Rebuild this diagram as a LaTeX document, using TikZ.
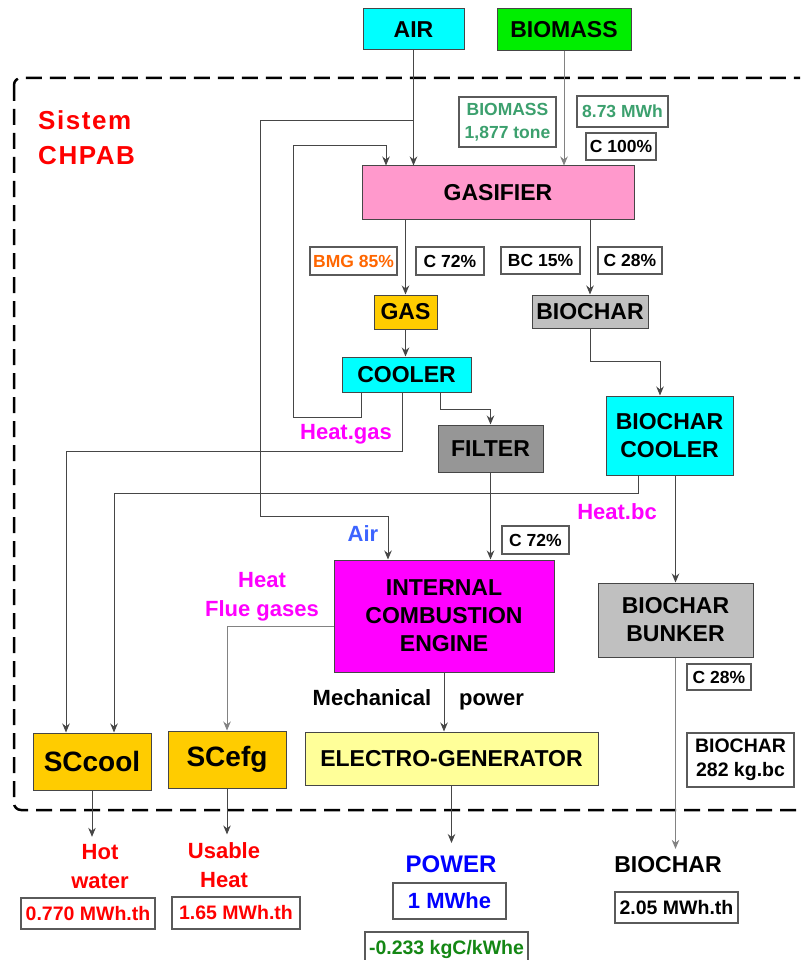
\documentclass[tikz,border=0pt]{standalone}
\usepackage{fontspec}
\setmainfont{Liberation Sans}
\usepackage{tikz}
\usetikzlibrary{positioning}
\usetikzlibrary{arrows.meta}
\usepackage{xcolor}

\definecolor{aircyan}{RGB}{0,255,255}
\definecolor{biogreen}{RGB}{0,238,0}
\definecolor{gaspink}{RGB}{255,153,204}
\definecolor{gasgold}{RGB}{255,204,0}
\definecolor{filtergray}{RGB}{150,150,150}
\definecolor{chargray}{RGB}{192,192,192}
\definecolor{enginemag}{RGB}{255,0,255}
\definecolor{genyellow}{RGB}{255,255,153}
\definecolor{linegray}{RGB}{70,70,70}
\definecolor{lightline}{RGB}{130,130,130}
\definecolor{taggray}{RGB}{90,90,90}
\definecolor{massgreen}{RGB}{60,160,110}
\definecolor{co2green}{RGB}{20,135,20}
\definecolor{bmgorange}{RGB}{255,102,0}
\definecolor{airblue}{RGB}{60,100,255}

\newcommand{\boxfont}{\fontsize{23}{28}\selectfont\bfseries}
\newcommand{\tagfont}{\fontsize{17.5}{23}\selectfont\bfseries}
\newcommand{\outfont}{\fontsize{19.5}{24}\selectfont\bfseries}
\newcommand{\scfont}{\fontsize{28}{32}\selectfont\bfseries}
\newcommand{\labfont}{\fontsize{22}{29}\selectfont\bfseries}
\newcommand{\sysfont}{\fontsize{26}{35}\selectfont\bfseries\addfontfeature{LetterSpace=6}}

\begin{document}
\begin{tikzpicture}[x=1pt,y=-1pt,
    unit/.style={draw=linegray,line width=1pt,inner sep=0pt,align=center,font=\boxfont},
    tag/.style={draw=taggray,line width=1.2pt,fill=white,inner sep=0pt,align=center,font=\tagfont},
    outtag/.style={tag,font=\outfont},
    note/.style={inner sep=0pt,align=center,font=\labfont},
    outtxt/.style={note,outer sep=8pt},
    flow/.style={draw=linegray,line width=1pt,-{Stealth[length=9pt,width=7.5pt]}},
    lightflow/.style={flow,draw=lightline},
    frame/.style={draw=black,line width=2.5pt,dash pattern=on 16pt off 8pt,rounded corners=7pt}]
\clip (0,0) rectangle (800,960);
\draw[frame] (14,78) rectangle (840,810);
\node[note,font=\sysfont,text=red,align=left,anchor=north west] (sys) at (38,110) {Sistem\\CHPAB};

\node[unit,fill=aircyan,minimum width=101pt,minimum height=41pt] (air) at (413.5,29.5) {AIR};
\node[unit,fill=biogreen,minimum width=134pt,minimum height=42pt] (biomass) at (564,30) {BIOMASS};
\node[unit,fill=gaspink,minimum width=272pt,minimum height=53pt] (gasifier) at (498,192.5) {GASIFIER};
\node[unit,fill=gasgold,minimum width=63pt,minimum height=34pt] (gas) at (405.5,312) {GAS};
\node[unit,fill=aircyan,minimum width=129pt,minimum height=35pt] (cooler) at (406.5,374.5) {COOLER};
\node[unit,fill=chargray,minimum width=116pt,minimum height=33pt] (biochar) at (590,311.5) {BIOCHAR};
\node[unit,fill=aircyan,minimum width=127pt,minimum height=79pt] (bccooler) at (669.5,435.5) {BIOCHAR\\COOLER};
\node[unit,fill=filtergray,minimum width=105pt,minimum height=47pt] (filter) at (490.5,448.5) {FILTER};
\node[unit,fill=enginemag,minimum width=220pt,minimum height=112pt] (engine) at (444,616) {INTERNAL\\COMBUSTION\\ENGINE};
\node[unit,fill=chargray,minimum width=155pt,minimum height=74pt] (bunker) at (675.5,620) {BIOCHAR\\BUNKER};
\node[unit,font=\scfont,fill=gasgold,minimum width=118pt,minimum height=57pt] (sccool) at (92,761.5) {SCcool};
\node[unit,font=\scfont,fill=gasgold,minimum width=118pt,minimum height=57pt] (scefg) at (227,759.5) {SCefg};
\node[unit,fill=genyellow,minimum width=293pt,minimum height=53pt] (generator) at (451.5,758.5) {ELECTRO-GENERATOR};

\node[tag,text=massgreen,minimum width=97pt,minimum height=50pt] (tmass) at (507.5,122) {BIOMASS\\1,877 tone};
\node[tag,text=massgreen,minimum width=91pt,minimum height=31pt] (tmwh) at (622.5,111.5) {8.73 MWh};
\node[tag,minimum width=70pt,minimum height=27pt] (tcfull) at (621,146.5) {C 100\%};
\node[tag,text=bmgorange,minimum width=87pt,minimum height=28pt] (tbmg) at (353.5,261) {BMG 85\%};
\node[tag,minimum width=68pt,minimum height=28pt] (tcgas) at (450,261) {C 72\%};
\node[tag,minimum width=79pt,minimum height=27pt] (tbc) at (540.5,260.5) {BC 15\%};
\node[tag,minimum width=64pt,minimum height=27pt] (tcchar) at (630,260.5) {C 28\%};
\node[tag,minimum width=67pt,minimum height=28pt] (tcfilter) at (535.5,540) {C 72\%};
\node[tag,minimum width=64pt,minimum height=26pt] (tcbunker) at (719,677) {C 28\%};
\node[outtag,minimum width=107pt,minimum height=54pt] (tbunker) at (740.5,760) {BIOCHAR\\282 kg.bc};

\node[note,text=enginemag] (heatgas) at (346,434) {Heat.gas};
\node[note,text=enginemag] (heatbc) at (617,512) {Heat.bc};
\node[note,text=airblue] (airtxt) at (363,534) {Air};
\node[note,text=enginemag] (heatflue) at (262,597) {Heat\\Flue gases};
\node[note,anchor=base] (mech) at (372,705) {Mechanical};
\node[note,anchor=base] (mechpower) at (491.5,705) {power};

\node[outtxt,text=red] (hot) at (100,867) {Hot\\water};
\node[outtxt,text=red] (usable) at (224,865) {Usable\\Heat};
\node[outtxt,text=blue,font=\fontsize{24}{29}\selectfont\bfseries,outer sep=13pt] (pwr) at (451,864.5) {POWER};
\node[outtxt,font=\fontsize{23}{28}\selectfont\bfseries] (bcout) at (668,865) {BIOCHAR};
\node[outtag,text=red,minimum width=134pt,minimum height=31pt] (thot) at (88,913.5) {0.770 MWh.th};
\node[outtag,text=red,minimum width=128pt,minimum height=32pt] (tusable) at (236,913) {1.65 MWh.th};
\node[outtag,text=blue,font=\fontsize{22}{26}\selectfont\bfseries,minimum width=113pt,minimum height=36pt] (tpwr) at (449.5,901) {1 MWhe};
\node[outtag,text=co2green,minimum width=163pt,minimum height=34pt] (tco2) at (446.5,949) {-0.233 kgC/kWhe};
\node[outtag,minimum width=123pt,minimum height=31pt] (tbcout) at (676.5,907.5) {2.05 MWh.th};

\draw[flow] (air.south) -- (air.south |- gasifier.north);
\draw[flow] (air.south |- 0,121) -| (260,516) -| ([xshift=-56pt]engine.north);
\draw[lightflow] (biomass.south) -- (biomass.south |- gasifier.north);
\draw[flow] (gas.north |- gasifier.south) -- (gas.north);
\draw[flow] (biochar.north |- gasifier.south) -- (biochar.north);
\draw[flow] (gas.south) -- (gas.south |- cooler.north);
\draw[flow] ([xshift=-45.5pt]cooler.south) -- ++(0,25) -| (293,146) -| ([xshift=-112pt]gasifier.north);
\draw[flow] ([xshift=-4.5pt]cooler.south) |- (66,451) -- ([xshift=-26pt]sccool.north);
\draw[flow] ([xshift=33.5pt]cooler.south) -- ++(0,17) -| (filter.north);
\draw[flow] (filter.south) -- (filter.south |- engine.north);
\draw[flow] (biochar.south) -- ++(0,33) -| ([xshift=-9.5pt]bccooler.north);
\draw[flow] ([xshift=-31.5pt]bccooler.south) -- ++(0,18) -| ([xshift=22pt]sccool.north);
\draw[flow] (bccooler.south -| bunker.north) -- (bunker.north);
\draw[lightflow] ([yshift=-10pt]engine.west) -| (scefg.north);
\draw[flow] (engine.south) -- (engine.south |- generator.north);
\draw[flow] (generator.south) -- (generator.south |- pwr.north);
\draw[flow] (sccool.south) -- (sccool.south |- hot.north);
\draw[flow] (scefg.south) -- (scefg.south |- usable.north);
\draw[lightflow] (bunker.south) -- (bunker.south |- bcout.north);
\end{tikzpicture}
\end{document}
